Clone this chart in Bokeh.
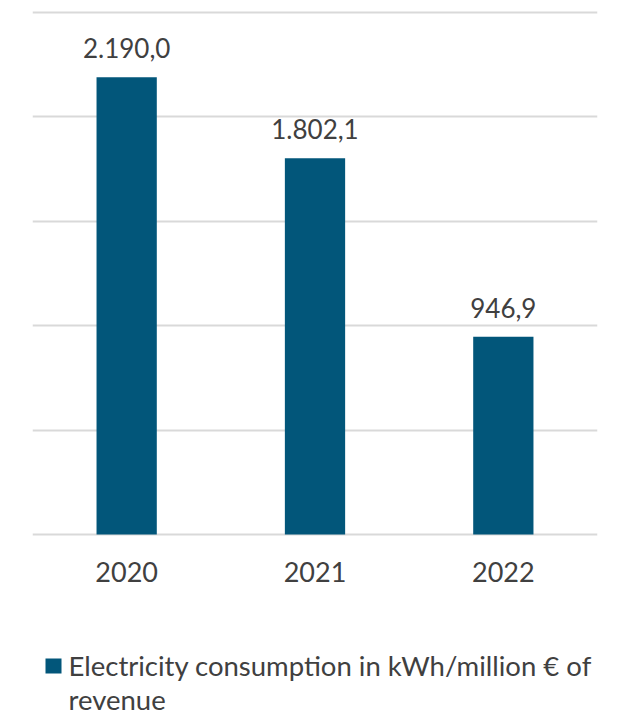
from bokeh.plotting import figure
from bokeh.layouts import column
from bokeh.models import (ColumnDataSource, SingleIntervalTicker, LabelSet, Range1d,
                          Label, BoxAnnotation)
from bokeh.core.properties import value
from bokeh.embed import file_html
from bokeh.resources import INLINE

years = ["2020", "2021", "2022"]
values = [2190.0, 1802.1, 946.9]
value_labels = ["2.190,0", "1.802,1", "946,9"]
series_name = "Electricity consumption in kWh/million € of\nrevenue"

FONT = "Lato"
TXT = "#404040"
BAR = "#02567A"

src = ColumnDataSource(dict(x=years, top=values, lab=value_labels))

p = figure(x_range=years, y_range=Range1d(-10, 2510), frame_width=565, frame_height=526,
           output_backend="svg", toolbar_location=None,
           min_border_left=32, min_border_right=29, min_border_top=10,
           min_border_bottom=60)
p.outline_line_color = None
p.background_fill_color = "white"

r = p.vbar(x="x", top="top", width=0.32, source=src, fill_color=BAR, line_color=None)

labels = LabelSet(x="x", y="top", text="lab", source=src, text_align="center",
                  text_baseline="bottom", y_offset=19, text_font=value(FONT),
                  text_font_size="26px", text_color=TXT)
p.add_layout(labels)

p.yaxis.visible = False
p.yaxis.ticker = SingleIntervalTicker(interval=500)
p.ygrid.ticker = SingleIntervalTicker(interval=500)
p.ygrid.grid_line_color = "#d9d9d9"
p.ygrid.grid_line_width = 2
p.xgrid.grid_line_color = None

ax = p.xaxis[0]
ax.axis_line_color = None
ax.major_tick_line_color = None
ax.minor_tick_line_color = None
ax.major_label_standoff = 19
ax.major_label_text_font = FONT
ax.major_label_text_font_size = "27px"
ax.major_label_text_color = TXT

# legend panel (frame is aligned with the chart frame: pixel 32..597, y downwards)
p2 = figure(width=626, height=120, x_range=Range1d(32, 597), y_range=Range1d(120, 0),
            output_backend="svg", toolbar_location=None,
            x_axis_location=None, y_axis_location=None, min_border=0)
p2.outline_line_color = None
p2.grid.visible = False

swatch = BoxAnnotation(left=45, right=61, top=62, bottom=77, fill_color=BAR,
                       fill_alpha=1.0, line_color=None)
p2.add_layout(swatch)
legend_text = Label(x=68, y=52, text=series_name, text_font=FONT,
                    text_font_size="27.5px", text_color=TXT, text_baseline="top",
                    text_align="left", text_line_height=1.06)
p2.add_layout(legend_text)

layout = column(p, p2, spacing=0)
open("out.html", "w").write(file_html(layout, INLINE))
